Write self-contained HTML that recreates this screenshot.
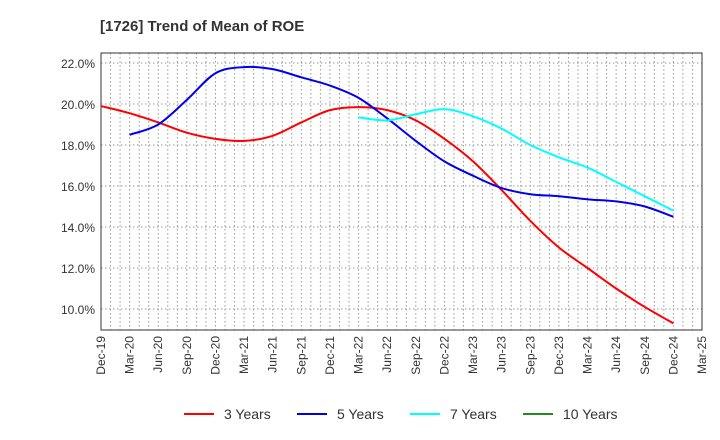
<!DOCTYPE html>
<html><head><meta charset="utf-8"><style>
body{margin:0;background:#fff;font-family:"Liberation Sans",Arial,sans-serif}
svg{display:block}
</style></head><body>
<svg id="c" width="720" height="440" xmlns="http://www.w3.org/2000/svg">
<text x="100" y="31" font-size="15" font-weight="bold" fill="#333">[1726]  Trend of Mean of ROE</text>
<g id="grid"></g><g id="axes"></g><g id="series"></g>
<g font-size="14" fill="#333">
<line x1="184" y1="414" x2="214" y2="414" stroke="#ff0000" stroke-width="2"/><text x="224" y="419">3 Years</text>
<line x1="297" y1="414" x2="327" y2="414" stroke="#0000ee" stroke-width="2"/><text x="337" y="419">5 Years</text>
<line x1="410" y1="414" x2="440" y2="414" stroke="#00ffff" stroke-width="2"/><text x="450" y="419">7 Years</text>
<line x1="523" y1="414" x2="553" y2="414" stroke="#228b22" stroke-width="2"/><text x="563" y="419">10 Years</text>
</g>
</svg>
<script>
const xLabels=["Dec-19","Mar-20","Jun-20","Sep-20","Dec-20","Mar-21","Jun-21","Sep-21","Dec-21","Mar-22","Jun-22","Sep-22","Dec-22","Mar-23","Jun-23","Sep-23","Dec-23","Mar-24","Jun-24","Sep-24","Dec-24","Mar-25"];
const yTicks=[10,12,14,16,18,20,22];
const roe3=[19.9,19.55,19.1,18.6,18.3,18.2,18.45,19.1,19.7,19.85,19.7,19.2,18.3,17.2,15.8,14.3,13.0,12.0,11.0,10.1,9.3];
const roe5=[null,18.5,19.0,20.2,21.5,21.8,21.7,21.3,20.9,20.3,19.3,18.2,17.2,16.5,15.9,15.6,15.5,15.35,15.25,15.0,14.5];
const roe7=[null,null,null,null,null,null,null,null,null,19.35,19.2,19.5,19.75,19.4,18.8,18.0,17.4,16.9,16.2,15.5,14.8];
const roe10=[];
const L=101,R=702,T=53,B=330;
const xs=i=>L+(R-L)*i/(xLabels.length-1);
const ys=v=>104-(v-20)*20.5;
const NS="http://www.w3.org/2000/svg";
function mk(tag,attrs,parent){const e=document.createElementNS(NS,tag);for(const k in attrs)e.setAttribute(k,attrs[k]);parent.appendChild(e);return e;}
const grid=document.getElementById('grid'),axes=document.getElementById('axes'),ser=document.getElementById('series');
for(let m=1;m<(xLabels.length-1)*3;m++){const x=L+(R-L)*m/((xLabels.length-1)*3);
const g=mk('line',{x1:x,x2:x,y1:T,y2:B,stroke:'#999','stroke-dasharray':'1.5,2.5','stroke-width':1},grid);

}
yTicks.forEach(v=>{const y=ys(v);
const g=mk('line',{x1:L,x2:R,y1:y,y2:y,stroke:'#999','stroke-dasharray':'1.5,2.5','stroke-width':1},grid);


const t=mk('text',{x:L-6,y:y+5,'text-anchor':'end','font-size':12,fill:'#333'},axes);t.textContent=v.toFixed(1)+'%';

});
const fr=mk('rect',{x:L,y:T,width:R-L,height:B-T,fill:'none',stroke:'#333','stroke-width':1},axes);


xLabels.forEach((l,i)=>{const x=xs(i);
const t=mk('text',{x:x+4,y:B+6,'text-anchor':'end','font-size':12,fill:'#333',transform:`rotate(-90 ${x+4} ${B+6})`},axes);t.textContent=l;

});
function path(arr,color,name){const p=[];arr.forEach((v,i)=>{if(v!=null)p.push([xs(i),ys(v)]);});if(p.length<2)return;
let d=`M${p[0][0]},${p[0][1]}`;
for(let i=0;i<p.length-1;i++){const p0=p[i-1]||p[i],p1=p[i],p2=p[i+1],p3=p[i+2]||p2;
d+=` C${p1[0]+(p2[0]-p0[0])/6},${p1[1]+(p2[1]-p0[1])/6} ${p2[0]-(p3[0]-p1[0])/6},${p2[1]-(p3[1]-p1[1])/6} ${p2[0]},${p2[1]}`;}
const e=mk('path',{d:d,fill:'none',stroke:color,'stroke-width':2},ser);

}
path(roe3,'#ff0000','series-3-years');
path(roe5,'#0000ee','series-5-years');
path(roe7,'#00ffff','series-7-years');
path(roe10,'#228b22','series-10-years');
</script>
</body></html>
